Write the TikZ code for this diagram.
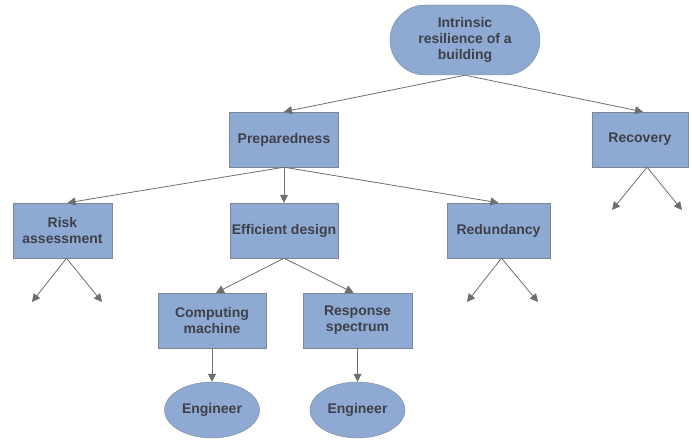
\documentclass[tikz,border=0pt]{standalone}
\usepackage{fontspec}
\setmainfont{Liberation Sans}
\usepackage{xcolor}
\usepackage{tikz}
\usetikzlibrary{shapes,arrows.meta,positioning,calc}

\definecolor{boxfill}{RGB}{143,170,210}
\definecolor{boxline}{RGB}{125,135,150}
\definecolor{txtgray}{RGB}{62,64,74}
\definecolor{wire}{RGB}{110,110,110}

\tikzset{
  box/.style={draw=boxline, fill=boxfill, rectangle, minimum width=108pt, minimum height=55pt,
    align=center, text=txtgray, inner sep=2pt, font=\fontsize{14}{16}\selectfont\bfseries},
  oval/.style={box, ellipse, minimum width=95pt, minimum height=56pt},
  pill/.style={box, rounded corners=35pt, minimum width=150pt, minimum height=70pt},
  link/.style={draw=wire, line width=0.8pt, -{Triangle[length=8pt,width=8pt]}}
}

\begin{document}
\begin{tikzpicture}[x=1pt, y=-1pt]
\useasboundingbox (0,0) rectangle (692,441);
% Top
\node[pill] (root) at (465,40) {Intrinsic\\resilience of a\\building};
\node[box, minimum width=109pt] (prep) at (284,139.5) {Preparedness};
\node[box, minimum width=96pt] (recov) at (640,139.5) {Recovery};
% Second row
\node[box, minimum width=99pt] (risk) at (62.5,230.5) {Risk\\assessment};
\node[box] (design) at (284,230.5) {Efficient design};
\node[box, minimum width=103pt] (redund) at (498.5,230.5) {Redundancy};
% Third row
\node[box] (comp) at (212,320.5) {Computing\\machine};
\node[box, minimum width=109pt] (resp) at (357.5,320.5) {Response\\spectrum};
% Engineers
\node[oval] (eng1) at (212,410) {Engineer};
\node[oval] (eng2) at (357.5,410) {Engineer};

% Links
\draw[link] (root.south) -- (prep.north);
\draw[link] (root.south) -- ($(recov.north)+(3,0)$);
\draw[link] (prep.south) -- ($(risk.north)+(5,0)$);
\draw[link] (prep.south) -- (design.north);
\draw[link] (prep.south) -- (redund.north);
\draw[link] (design.south) -- ($(comp.north)+(4,0)$);
\draw[link] (design.south) -- ($(resp.north)+(-4,0)$);
\draw[link] (comp.south) -- (eng1.north);
\draw[link] (resp.south) -- (eng2.north);

% Open ends
\coordinate (risk-l) at (32,302);
\coordinate (risk-r) at (102,302);
\coordinate (red-l) at (467,302);
\coordinate (red-r) at (538,302);
\coordinate (rec-l) at (612,210);
\coordinate (rec-r) at (682,210);
\draw[link] ($(risk.south)+(4,0)$) -- (risk-l);
\draw[link] ($(risk.south)+(4,0)$) -- (risk-r);
\draw[link] ($(redund.south)+(3,0)$) -- (red-l);
\draw[link] ($(redund.south)+(3,0)$) -- (red-r);
\draw[link] ($(recov.south)+(7,0)$) -- (rec-l);
\draw[link] ($(recov.south)+(7,0)$) -- (rec-r);
\end{tikzpicture}
\end{document}
